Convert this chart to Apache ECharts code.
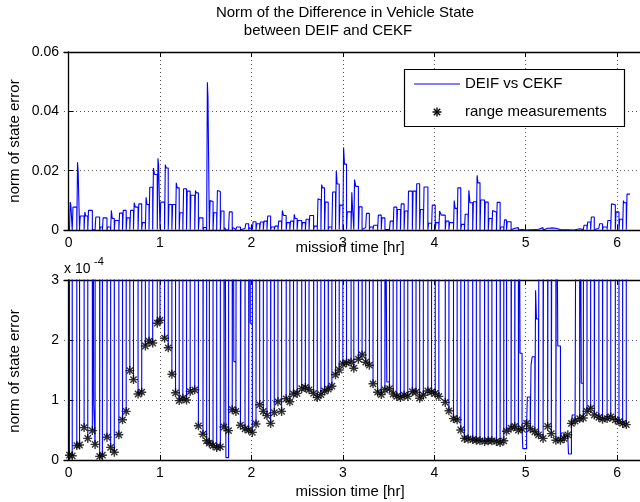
<!DOCTYPE html>
<html><head><meta charset="utf-8">
<script src="https://cdn.jsdelivr.net/npm/echarts@6/dist/echarts.min.js"></script>
<style>html,body{margin:0;padding:0;background:#fff}#c{width:640px;height:502px}</style>
</head><body><div id="c"></div>
<script>
// ---- data ----
// range measurement times [hr]
const measTime = [0.01,0.04,0.09,0.12,0.17,0.21,0.26,0.29,0.34,0.37,0.42,0.46,0.50,0.55,0.59,0.63,0.67,0.71,0.76,0.80,0.84,0.88,0.92,0.97,1.00,1.05,1.09,1.13,1.17,1.21,1.25,1.29,1.33,1.38,1.42,1.47,1.51,1.54,1.58,1.62,1.66,1.70,1.75,1.79,1.83,1.88,1.93,1.97,2.01,
 2.05,2.09,2.13,2.17,2.21,2.25,2.29,2.33,2.38,2.42,2.46,2.50,2.55,2.59,2.63,2.68,2.72,2.76,2.80,2.84,2.88,2.92,2.96,3.00,3.04,3.09,3.12,3.17,3.21,3.25,3.29,3.33,3.38,3.42,3.46,3.51,3.55,3.59,3.63,3.67,3.71,3.76,3.80,3.84,3.88,3.93,3.97,4.01,4.05,
 4.12,4.16,4.21,4.25,4.29,4.33,4.37,4.42,4.46,4.50,4.55,4.59,4.63,4.68,4.72,4.76,4.79,4.84,4.88,4.92,4.96,5.01,5.05,5.10,5.14,5.19,5.24,5.28,5.33,5.38,5.42,5.46,5.50,5.54,5.59,5.63,5.67,5.71,5.75,5.80,5.84,5.89,5.93,5.98,6.02,6.06,6.10];
// state error norm at each range measurement [x 1e-4]
const measErr_e4 = [0.08,0.07,0.24,0.25,0.54,0.36,0.49,0.26,0.06,0.08,0.38,0.21,0.13,0.42,0.67,0.81,1.49,1.34,1.10,1.13,1.90,1.98,1.95,2.28,2.33,2.03,1.87,1.43,1.12,0.99,1.03,1.00,1.14,1.17,0.57,0.43,0.32,0.28,0.24,0.21,0.22,0.55,0.49,0.84,0.81,0.58,0.52,0.50,0.46,
 0.60,0.92,0.81,0.74,0.61,0.79,0.97,0.81,1.02,0.97,1.10,1.11,1.19,1.21,1.17,1.11,1.04,1.09,1.15,1.18,1.23,1.42,1.50,1.60,1.62,1.63,1.53,1.68,1.75,1.63,1.58,1.27,1.13,1.09,1.17,1.19,1.10,1.06,1.04,1.08,1.06,1.14,1.13,1.03,1.08,1.15,1.13,1.11,1.06,
 0.96,0.82,0.69,0.67,0.50,0.36,0.35,0.34,0.33,0.32,0.31,0.32,0.32,0.31,0.29,0.32,0.48,0.53,0.56,0.50,0.52,0.61,0.52,0.47,0.42,0.36,0.56,0.44,0.33,0.33,0.36,0.42,0.61,0.65,0.69,0.70,0.81,0.86,0.75,0.71,0.68,0.69,0.72,0.67,0.64,0.61,0.59];
// error level right after each measurement (first part of the interval) [x 1e-3]
const pulseRise_e3 = [9.4,7.7,22.8,4.7,6.1,6.6,0.6,4.4,1.0,4.1,1.0,6.6,3.2,5.7,6.6,4.1,6.6,9.2,8.8,2.5,11.0,14.4,20.9,24.2,9.4,22.0,8.6,8.6,15.9,5.8,13.9,13.1,11.7,13.3,4.1,0.8,49.8,9.9,5.8,13.3,6.4,0.8,6.1,0.8,1.0,0.5,2.1,0.8,2.8,
 2.1,2.7,3.0,4.7,1.0,1.3,3.0,6.6,2.5,3.0,5.3,3.2,2.5,3.6,4.9,1.3,10.5,15.3,9.4,1.0,12.8,20.0,8.4,27.8,6.1,12.7,17.0,7.8,0.8,5.6,1.0,1.6,5.0,4.1,0.5,3.0,7.7,6.9,8.8,6.4,13.1,13.1,15.6,6.9,14.5,2.3,8.4,2.5,6.4,
 3.0,2.5,9.9,14.2,1.9,5.3,13.4,9.5,18.4,10.1,9.4,3.9,6.6,9.3,1.0,3.4,2.8,0.6,0.8,0.6,0.019,0.105,0.158,0.283,0.8,0.6,0.7,0.6,0.6,0.045,0.04,0.01,0.075,0.45,0.6,1.6,2.7,4.4,0.6,2.1,1.0,3.2,8.8,6.1,3.6,9.9,12.1];
// error level held until the next measurement [x 1e-3]
const pulseHold_e3 = [8.4,7.7,19.8,4.7,4.7,6.6,0.094,4.4,1.0,4.1,1.0,3.9,3.2,5.7,6.6,4.1,6.6,7.7,8.8,2.5,8.6,14.4,18.7,21.7,9.4,20.9,8.6,8.6,14.2,5.8,13.9,13.1,11.7,12.5,4.1,0.8,44.7,9.6,5.8,13.0,6.4,0.004,6.1,0.164,1.0,0.5,2.1,0.228,2.8,
 2.1,2.7,3.0,4.7,1.0,1.3,3.0,4.9,2.5,3.0,3.9,3.2,2.5,3.6,4.9,1.3,10.1,14.2,9.4,1.0,12.8,15.5,8.4,22.2,6.1,8.3,14.7,7.8,0.8,5.6,1.0,1.6,5.0,4.1,0.13,3.0,7.7,6.9,8.8,6.4,13.1,13.1,15.6,6.9,14.5,2.3,8.4,2.5,5.0,
 3.0,2.5,7.3,14.2,1.9,5.3,9.2,9.5,15.9,10.1,9.4,3.9,6.0,9.3,1.0,3.4,2.8,0.6,0.8,0.178,0.019,0.105,0.172,0.235,0.8,0.6,0.7,0.6,0.19,0.045,0.04,0.01,0.075,0.45,0.128,1.6,2.7,4.4,0.6,2.1,1.0,3.2,8.5,6.1,3.6,9.2,12.1];
const recordEnd = 6.14;     // hr, end of the logged record
const lowDwell = 0.008;     // hr the error stays at the measurement level
const riseShare = 0.3;      // share of the interval at the first level
const xTickValues = [0,1,2,3,4,5,6];
const topYTickLabels = ['0','0.02','0.04','0.06'];
const botYTickLabels = ['0','1','2','3'];

// ---- build series data ----
const errLine = [];
for (let i = 0; i < measTime.length; i++) {
  const t0 = measTime[i];
  const t1 = i + 1 < measTime.length ? measTime[i + 1] : recordEnd;
  const m = measErr_e4[i] * 1e-4, r = pulseRise_e3[i] * 1e-3, h = pulseHold_e3[i] * 1e-3;
  const ts = t0 + lowDwell, tm = ts + riseShare * (t1 - ts);
  errLine.push([t0, m], [ts, m], [ts, r], [tm, r], [tm, h], [t1, h]);
}
const measPts = measTime.map((t, i) => [t, measErr_e4[i] * 1e-4]);

const FF = 'Liberation Sans, Arial, Helvetica, sans-serif';
const STAR = 'path://M0,5L10,5M5,0L5,10M1.5,1.5L8.5,8.5M1.5,8.5L8.5,1.5';

function xAx(grid, pos) {
  const bottom = pos === 'bottom';
  return {
    type: 'value', gridIndex: grid, position: pos, min: -0.05, max: 6.25,
    axisLine: { show: true, onZero: false, lineStyle: { color: '#000', width: 1.3 } },
    axisTick: { show: true, inside: true, length: 5, customValues: xTickValues, lineStyle: { color: '#000' } },
    axisLabel: { show: bottom, customValues: xTickValues, color: '#000', fontSize: 14, fontFamily: FF, margin: 6 },
    splitLine: { show: bottom, lineStyle: { color: '#555', type: [1, 3], width: 1 } }
  };
}
function yAx(grid, max, step, labels) {
  return {
    type: 'value', gridIndex: grid, min: 0, max: max, interval: step,
    axisLine: { show: true, lineStyle: { color: '#000', width: 1.3 } },
    axisTick: { show: true, inside: true, length: 5, lineStyle: { color: '#000' } },
    axisLabel: { color: '#000', fontSize: 14, fontFamily: FF, margin: 5,
      formatter: (v) => labels[Math.round(v / step)] },
    splitLine: { show: true, lineStyle: { color: '#555', type: [1, 3], width: 1 } }
  };
}
const txt = (text, x, y, o) => Object.assign({ type: 'text', x: x, y: y, z: 100,
  style: Object.assign({ text: text, fill: '#000', fontSize: 15, fontFamily: FF, align: 'center', verticalAlign: 'middle' }, o || {}) });

const option = {
  animation: false,
  backgroundColor: '#fff',
  grid: [
    { left: 64, top: 52, width: 584, height: 178 },
    { left: 64, top: 280, width: 584, height: 180 }
  ],
  xAxis: [xAx(0, 'bottom'), xAx(1, 'bottom'), xAx(0, 'top'), xAx(1, 'top')],
  yAxis: [yAx(0, 0.06, 0.02, topYTickLabels), yAx(1, 3e-4, 1e-4, botYTickLabels)],
  series: [
    { name: 'DEIF vs CEKF', type: 'line', xAxisIndex: 0, yAxisIndex: 0, data: errLine, showSymbol: false,
      lineStyle: { color: '#0000ff', width: 1.1 }, clip: true, z: 3 },
    { name: 'DEIF vs CEKF', type: 'line', xAxisIndex: 1, yAxisIndex: 1, data: errLine, showSymbol: false,
      lineStyle: { color: '#0000ff', width: 1.1 }, clip: true, z: 3 },
    { name: 'range measurements', type: 'scatter', xAxisIndex: 1, yAxisIndex: 1, data: measPts,
      symbol: STAR, symbolSize: 9, itemStyle: { color: 'rgba(0,0,0,0)', borderColor: '#000', borderWidth: 1.4 }, z: 4 }
  ],
  graphic: [
    txt('Norm of the Difference in Vehicle State', 345, 13),
    txt('between DEIF and CEKF', 328, 31),
    txt('mission time [hr]', 350, 248),
    txt('mission time [hr]', 350, 492),
    Object.assign(txt('norm of state error', 15, 141), { rotation: Math.PI / 2 }),
    Object.assign(txt('norm of state error', 15, 371), { rotation: Math.PI / 2 }),
    txt('x 10', 64, 269, { align: 'left', fontSize: 14 }),
    txt('-4', 94, 262, { align: 'left', fontSize: 11 }),
    { type: 'rect', z: 100, shape: { x: 404.5, y: 69.5, width: 220, height: 57 },
      style: { fill: '#fff', stroke: '#000', lineWidth: 1.2 } },
    { type: 'line', z: 101, shape: { x1: 414, y1: 84, x2: 460, y2: 84 }, style: { stroke: '#0000ff', lineWidth: 1.1 } },
    { type: 'line', z: 101, shape: { x1: 432.5, y1: 112, x2: 441.5, y2: 112 }, style: { stroke: '#000', lineWidth: 1.4 } },
    { type: 'line', z: 101, shape: { x1: 437, y1: 107.5, x2: 437, y2: 116.5 }, style: { stroke: '#000', lineWidth: 1.4 } },
    { type: 'line', z: 101, shape: { x1: 433.8, y1: 108.8, x2: 440.2, y2: 115.2 }, style: { stroke: '#000', lineWidth: 1.4 } },
    { type: 'line', z: 101, shape: { x1: 433.8, y1: 115.2, x2: 440.2, y2: 108.8 }, style: { stroke: '#000', lineWidth: 1.4 } },
    Object.assign(txt('DEIF vs CEKF', 465, 84, { align: 'left' }), { z: 102 }),
    Object.assign(txt('range measurements', 465, 112, { align: 'left' }), { z: 102 })
  ]
};
const chart = echarts.init(document.getElementById('c'));
chart.setOption(option);
</script></body></html>
